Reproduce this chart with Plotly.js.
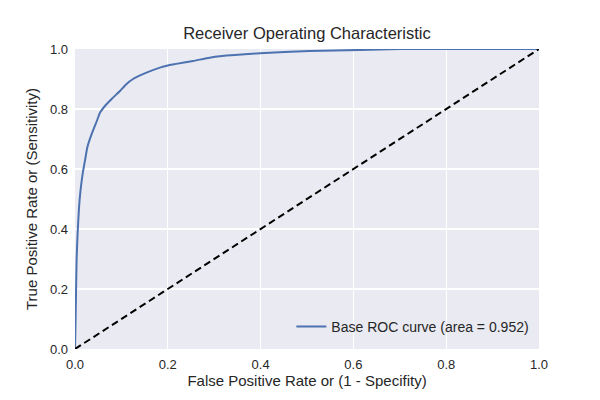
<!DOCTYPE html>
<html>
<head>
<meta charset="utf-8">
<script src="https://cdn.plot.ly/plotly-3.0.1.min.js"></script>
<style>
  html, body { margin: 0; padding: 0; background: #ffffff; }
  #chart { width: 600px; height: 400px; }
</style>
</head>
<body>
<div id="chart"></div>
<script>
// ROC curve points
const fpr = [0, 0.0008, 0.002, 0.0035, 0.0055, 0.0086, 0.012, 0.0165, 0.0215,
  0.0265, 0.036, 0.047, 0.054, 0.0645, 0.08, 0.097, 0.11, 0.125, 0.154,
  0.183, 0.2, 0.254, 0.29, 0.312, 0.398, 0.505, 0.613, 0.7, 0.85, 1.0];
const tpr = [0, 0.06, 0.17, 0.3, 0.38, 0.47, 0.53, 0.584, 0.628,
  0.672, 0.717, 0.76, 0.788, 0.81, 0.835, 0.86, 0.882, 0.9, 0.921,
  0.938, 0.945, 0.96, 0.971, 0.976, 0.986, 0.993, 0.997, 1.0, 1.0, 1.0];
const chanceX = [0, 1];
const chanceY = [0, 1];
const rocLabel = "Base ROC curve (area = 0.952)";

const textColor = "#262626";
const fontFamily = "Liberation Sans, Arial, sans-serif";

const traces = [
  {
    "x": fpr,
    "y": tpr,
    "type": "scatter",
    "mode": "lines",
    "name": rocLabel,
    "line": {"color": "#4C72B0", "width": 2, "shape": "spline", "smoothing": 0.5}
  },
  {
    "x": chanceX,
    "y": chanceY,
    "type": "scatter",
    "mode": "lines",
    "showlegend": false,
    "line": {"color": "#000000", "width": 2, "dash": "7px,4px"}
  }
];

const axisCommon = {
  "range": [0, 1],
  "tickvals": [0, 0.2, 0.4, 0.6, 0.8, 1.0],
  "ticktext": ["0.0", "0.2", "0.4", "0.6", "0.8", "1.0"],
  "showgrid": true,
  "gridcolor": "#ffffff",
  "gridwidth": 1.3,
  "zeroline": false,
  "showline": false,
  "ticks": "",
  "tickfont": {"size": 13, "color": textColor, "family": fontFamily}
};

const layout = {
  "width": 600,
  "height": 400,
  "margin": {"l": 75, "r": 61, "t": 49, "b": 51},
  "paper_bgcolor": "#ffffff",
  "plot_bgcolor": "#EAEAF2",
  "font": {"family": fontFamily, "color": textColor},
  "title": {
    "text": "Receiver Operating Characteristic",
    "font": {"size": 16.5, "color": textColor},
    "x": 0.5,
    "xref": "paper",
    "y": 1 - 33 / 400,
    "yref": "container",
    "yanchor": "middle"
  },
  "xaxis": Object.assign({}, axisCommon, {
    "ticklabelstandoff": 6,
    "title": {"text": "False Positive Rate or (1 - Specifity)",
      "font": {"size": 15, "color": textColor}, "standoff": 4}
  }),
  "yaxis": Object.assign({}, axisCommon, {
    "ticklabelstandoff": 6,
    "title": {"text": "True Positive Rate or (Sensitivity)",
      "font": {"size": 15, "color": textColor}, "standoff": 8}
  }),
  "legend": {
    "x": 0.99,
    "xanchor": "right",
    "y": 0.02,
    "yanchor": "bottom",
    "bgcolor": "rgba(0,0,0,0)",
    "font": {"size": 14, "color": textColor}
  },
  "showlegend": true
};

Plotly.newPlot("chart", traces, layout, {"displayModeBar": false, "staticPlot": true});
</script>
</body>
</html>
